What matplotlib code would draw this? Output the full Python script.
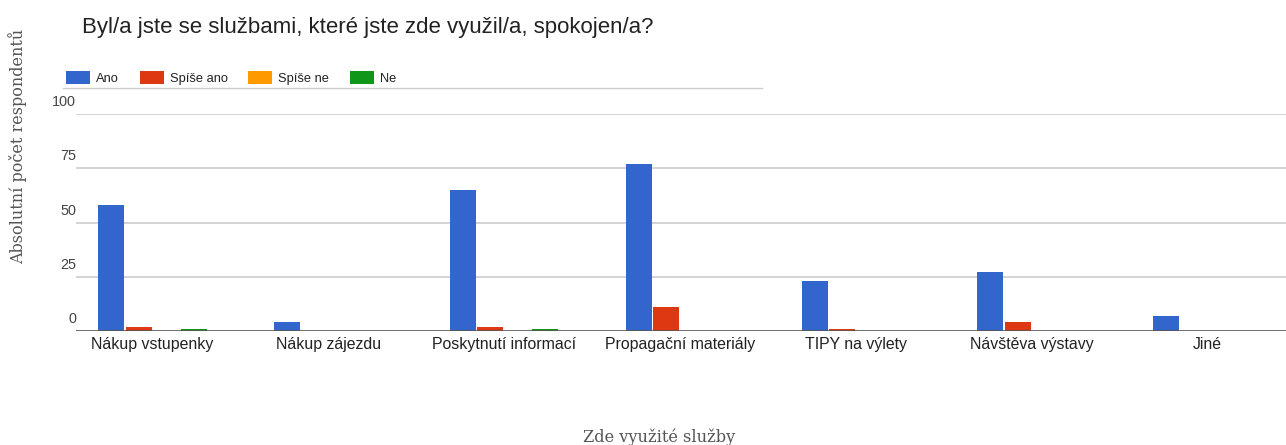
import matplotlib
matplotlib.use('Agg')
import matplotlib.pyplot as plt
import matplotlib.transforms as mtransforms
from matplotlib.lines import Line2D
import numpy as np

# Data
categories = ['Nákup vstupenky', 'Nákup zájezdu', 'Poskytnutí informací',
              'Propagační materiály', 'TIPY na výlety', 'Návštěva výstavy', 'Jiné']
ano = [58, 4, 65, 77, 23, 27, 7]
spise_ano = [2, 0, 2, 11, 1, 4, 0]
spise_ne = [0, 0, 0, 0, 0, 0, 0]
ne = [1, 0, 1, 0, 0, 0, 0]
series_names = ['Ano', 'Spíše ano', 'Spíše ne', 'Ne']
colors = ['#3366CC', '#DC3912', '#FF9900', '#109618']
y_ticks = [0, 25, 50, 75, 100]

W, H = 1286, 445
fig = plt.figure(figsize=(W / 100, H / 100), dpi=100)
ax = fig.add_axes([76 / W, 1 - 331 / H, 1 - 76 / W, (331 - 114.3) / H])

sans = ['Liberation Sans', 'DejaVu Sans']
serif = ['DejaVu Serif']

x = np.arange(len(categories))
width = 0.148
pitch = 0.156
series = [ano, spise_ano, spise_ne, ne]
handles = []
for i, (vals, name, c) in enumerate(zip(series, series_names, colors)):
    b = ax.bar(x + (i - 1.5) * pitch, vals, width, color=c, label=name,
               linewidth=0, zorder=3)
    handles.append(b)

ax.set_xlim(-0.435, 6.448)
ax.set_ylim(0, 100)

# gridlines and baseline
for t in y_ticks[1:]:
    ax.axhline(t, color='#cccccc', lw=1.2, zorder=1)
ax.axhline(0, color='#555555', lw=1.2, zorder=4)
for s in ax.spines.values():
    s.set_visible(False)

# y tick labels sit above their gridlines
ax.set_yticks([])
off = mtransforms.offset_copy(ax.get_yaxis_transform(), fig=fig, x=0, y=8, units='dots')
for t in y_ticks:
    ax.text(0, t, str(t), transform=off, ha='right', va='baseline',
            fontsize=10.4, color='#444444', family=sans)

ax.set_xticks(x)
ax.set_xticklabels(categories, fontsize=11.4, color='#222222', family=sans)
ax.tick_params(axis='x', length=0, pad=4)

fig.text(82 / W, 1 - 28 / H, 'Byl/a jste se službami, které jste zde využil/a, spokojen/a?',
         fontsize=16, color='#222222', family=sans, ha='left', va='center')

fig.text(18 / W, 1 - 146 / H, 'Absolutní počet respondentů', rotation=90,
         fontsize=11.5, color='#555555', family=serif, ha='center', va='center')
fig.text(659 / W, 1 - 437 / H, 'Zde využité služby',
         fontsize=11.7, color='#555555', family=serif, ha='center', va='center')

leg = fig.legend(handles=handles, labels=series_names, loc='center left',
                 bbox_to_anchor=(66 / W, 1 - 78 / H), ncol=4, frameon=False,
                 borderpad=0, borderaxespad=0, handlelength=1.86, handleheight=1.16,
                 handletextpad=0.47, columnspacing=1.6,
                 prop={'family': sans, 'size': 9.3})
for t in leg.get_texts():
    t.set_color('#222222')

fig.add_artist(Line2D([63 / W, 762 / W], [1 - 87.7 / H, 1 - 87.7 / H],
                      color='#cccccc', lw=1, transform=fig.transFigure))

fig.savefig('out.png', dpi=100)
